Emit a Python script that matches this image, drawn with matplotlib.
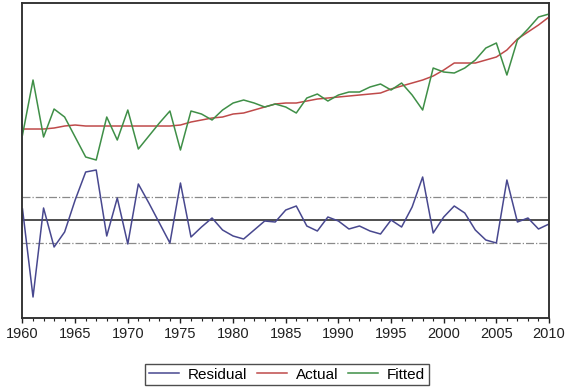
import numpy as np
import matplotlib.pyplot as plt
from matplotlib.ticker import MultipleLocator

plt.rcParams['font.family'] = ['Liberation Sans', 'DejaVu Sans']

years = np.arange(1960, 2011)

actual = [9.45, 9.45, 9.45, 9.5, 9.6, 9.65, 9.6, 9.6, 9.6, 9.6,
          9.6, 9.6, 9.6, 9.6, 9.6, 9.65, 9.8, 9.9, 10.0, 10.05,
          10.2, 10.25, 10.4, 10.55, 10.7, 10.75, 10.75, 10.85, 10.95, 11.0,
          11.05, 11.1, 11.15, 11.2, 11.25, 11.45, 11.6, 11.75, 11.9, 12.1,
          12.4, 12.75, 12.75, 12.75, 12.9, 13.05, 13.4, 13.95, 14.3, 14.65,
          15.05]

fitted = [9.15, 11.9, 9.05, 10.45, 10.05, 9.05, 8.05, 7.9, 10.05, 8.9,
          10.4, 8.45, 9.1, 9.75, 10.35, 8.4, 10.35, 10.2, 9.9, 10.4,
          10.75, 10.9, 10.75, 10.55, 10.7, 10.55, 10.25, 11.0, 11.2, 10.85,
          11.15, 11.3, 11.3, 11.55, 11.7, 11.4, 11.75, 11.15, 10.4, 12.5,
          12.3, 12.25, 12.5, 12.9, 13.5, 13.75, 12.15, 13.9, 14.45, 15.05,
          15.2]

residual = [0.11, -0.77, 0.12, -0.27, -0.12, 0.20, 0.48, 0.50, -0.16, 0.22,
            -0.24, 0.36, 0.17, -0.03, -0.23, 0.37, -0.17, -0.07, 0.02, -0.10,
            -0.16, -0.19, -0.10, -0.01, -0.02, 0.10, 0.14, -0.06, -0.11, 0.03,
            -0.01, -0.09, -0.06, -0.11, -0.14, 0.00, -0.07, 0.13, 0.43, -0.13,
            0.03, 0.14, 0.07, -0.10, -0.20, -0.23, 0.40, -0.02, 0.02, -0.09,
            -0.04]

res_sd = 0.23

c_res = "#48488f"
c_act = "#bf4a4a"
c_fit = "#3f8f47"

fig = plt.figure(figsize=(5.71, 3.87), dpi=100)
ax = fig.add_axes([0.0394, 0.1783, 0.9221, 0.8139])
ax2 = ax.twinx()

# residual on left axis
ax.axhline(0, color="#303030", lw=1.2, zorder=1)
ax.axhline(res_sd, color="#8a8a8a", lw=0.9, ls="-.", zorder=1)
ax.axhline(-res_sd, color="#8a8a8a", lw=0.9, ls="-.", zorder=1)
l1, = ax.plot(years, residual, color=c_res, lw=1.1, label="Residual")
ax.set_ylim(-0.98, 2.17)

# actual / fitted on right axis
l2, = ax2.plot(years, actual, color=c_act, lw=1.1, label="Actual")
l3, = ax2.plot(years, fitted, color=c_fit, lw=1.1, label="Fitted")
ax2.set_ylim(0, 15.75)

ax.set_xlim(1960, 2010)
ax.xaxis.set_major_locator(MultipleLocator(5))
ax.xaxis.set_minor_locator(MultipleLocator(1))
ax.tick_params(axis="x", which="major", length=3.6, width=1, direction="out",
               labelsize=10.5, colors="#202020", pad=3)
ax.tick_params(axis="x", which="minor", length=2.2, width=0.8, direction="out",
               colors="#202020")
ax.set_yticks([])
ax2.set_yticks([])

for a in (ax, ax2):
    for s in a.spines.values():
        s.set_color("#303030")
        s.set_linewidth(1.1)

leg = fig.legend(handles=[l1, l2, l3], loc="lower center",
                 bbox_to_anchor=(0.503, 0.0), ncol=3, fontsize=11,
                 frameon=True, fancybox=False, handlelength=1.96,
                 columnspacing=0.65, handletextpad=0.57, borderpad=0.25,
                 borderaxespad=0.1)
leg.get_frame().set_edgecolor("#202020")
leg.get_frame().set_linewidth(1.0)

fig.savefig("out.png", dpi=100)
